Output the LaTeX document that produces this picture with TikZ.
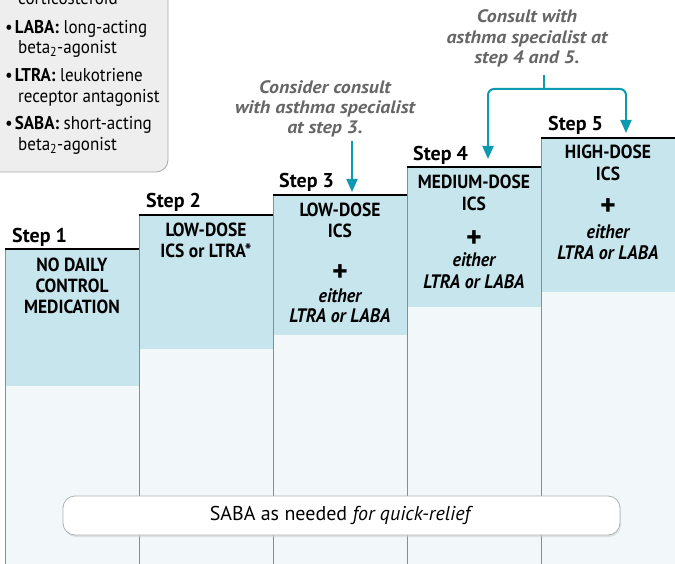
\documentclass[tikz,border=0pt]{standalone}
\usepackage{fontspec}
\setmainfont{PT Sans}
\newfontfamily\condfont{PT Sans}[FakeStretch=0.92]
\newfontfamily\widefont{PT Sans}[FakeStretch=1.1]
\usetikzlibrary{arrows.meta,shadows}
\definecolor{stepblue}{HTML}{C6E5EC}
\definecolor{steppale}{HTML}{F2F8FA}
\definecolor{tealc}{HTML}{0E9AAE}
\definecolor{consultgray}{HTML}{666666}
\definecolor{legfill}{HTML}{EEEEEE}
\definecolor{legborder}{HTML}{A8A8A8}
\definecolor{colline}{HTML}{8C8C8C}
\tikzset{
 steplabel/.style={anchor=base west, inner sep=0pt, font=\fontsize{20}{22}\selectfont\bfseries},
 boxline/.style={anchor=base, inner sep=0pt, font=\condfont\fontsize{19}{21}\selectfont\bfseries},
 boxital/.style={anchor=base, inner sep=0pt, font=\condfont\fontsize{19.5}{21}\selectfont\bfseries\itshape},
 plussign/.style={inner sep=0pt, font=\fontsize{30}{30}\selectfont\bfseries},
 consult/.style={anchor=base, inner sep=0pt, text=consultgray, font=\widefont\fontsize{18}{20}\selectfont\bfseries\itshape},
 legline/.style={anchor=base west, inner sep=0pt, font=\condfont\fontsize{18.5}{20}\selectfont},
 toparrow/.style={draw=tealc, line width=2pt, -{Triangle[width=11pt,length=13pt]}},
 tealline/.style={draw=tealc, line width=2pt},
 topline/.style={line width=1.6pt, black},
 colborder/.style={colline, line width=0.8pt},
 sababox/.style={draw=black!30, fill=white, rounded corners=12pt, line width=0.8pt,
   minimum width=557pt, minimum height=39pt, inner sep=0pt,
   drop shadow={shadow xshift=1pt, shadow yshift=-2pt, fill=black!20},
   font=\fontsize{20}{22}\selectfont},
}
\begin{document}
\begin{tikzpicture}[x=1pt,y=-1pt]
\useasboundingbox (0,0) rectangle (675,564);
\clip (0,0) rectangle (675,564);
% legend box
\draw[fill=legfill, draw=legborder, line width=0.8pt, rounded corners=12pt] (-20,-30) rectangle (168,172);
\node[legline] (leg0) at (18,5) {corticosteroid};
\node[legline] (leg1) at (5,33.5) {\textbullet\hspace{2pt}\textbf{LABA:} long-acting};
\node[legline] (leg2) at (18,53.5) {beta\textsubscript{2}-agonist};
\node[legline] (leg3) at (5,81.5) {\textbullet\hspace{2pt}\textbf{LTRA:} leukotriene};
\node[legline] (leg4) at (18,103) {receptor antagonist};
\node[legline] (leg5) at (5,130) {\textbullet\hspace{2pt}\textbf{SABA:} short-acting};
\node[legline] (leg6) at (18,150.5) {beta\textsubscript{2}-agonist};
% columns
\foreach \xa/\xb/\top/\bb in {5/139/249/386, 139/273/215/349, 273/407/195/335, 407/541/167/307, 541/680/138/292}{
  \fill[stepblue] (\xa,\top) rectangle (\xb,\bb);
  \fill[steppale] (\xa,\bb) rectangle (\xb,564);
  \draw[colborder] (\xa,\top) -- (\xa,564);
  \draw[topline] (\xa,\top) -- (\xb,\top);
}
% step labels
\node[steplabel] (st1) at (12,242.7) {Step 1};
\node[steplabel] (st2) at (146,208) {Step 2};
\node[steplabel] (st3) at (279,187.5) {Step 3};
\node[steplabel] (st4) at (413,160.7) {Step 4};
\node[steplabel] (st5) at (548,131) {Step 5};
% step 1
\node[boxline] (s1a) at (72,271.5) {NO DAILY};
\node[boxline] (s1b) at (72,292.5) {CONTROL};
\node[boxline] (s1c) at (72,313.5) {MEDICATION};
% step 2
\node[boxline] (s2a) at (206,237) {LOW-DOSE};
\node[boxline] (s2b) at (206,258) {ICS or LTRA*};
% step 3
\node[boxline] (s3a) at (340,216.5) {LOW-DOSE};
\node[boxline] (s3b) at (340,237.3) {ICS};
\node[plussign] (s3p) at (340,273) {+};
\node[boxital] (s3c) at (340,302.5) {either};
\node[boxital] (s3d) at (340,323) {LTRA or LABA};
% step 4
\node[boxline] (s4a) at (474,189) {MEDIUM-DOSE};
\node[boxline] (s4b) at (474,210.5) {ICS};
\node[plussign] (s4p) at (474,239) {+};
\node[boxital] (s4c) at (474,267) {either};
\node[boxital] (s4d) at (474,288) {LTRA or LABA};
% step 5
\node[boxline] (s5a) at (608,159) {HIGH-DOSE};
\node[boxline] (s5b) at (608,181) {ICS};
\node[plussign] (s5p) at (608,207) {+};
\node[boxital] (s5c) at (608,239) {either};
\node[boxital] (s5d) at (608,260) {LTRA or LABA};
% consult texts
\node[consult] (c3a) at (325,93.3) {Consider consult};
\node[consult] (c3b) at (325,114) {with asthma specialist};
\node[consult] (c3c) at (325,134) {at step 3.};
\node[consult] (c45a) at (527,22.7) {Consult with};
\node[consult] (c45b) at (527,43.3) {asthma specialist at};
\node[consult] (c45c) at (527,64) {step 4 and 5.};
% arrows
\coordinate (a3s) at (352,141);
\coordinate (a3e) at (352,192);
\draw[toparrow] (a3s) -- (a3e);
\coordinate (a45s) at (544,75);
\coordinate (a45j) at (544,89);
\coordinate (a4e) at (488,159);
\coordinate (a5e) at (626,133);
\draw[tealline] (a45s) -- (a45j);
\draw[toparrow, rounded corners=6pt] (a45j) -| (a4e);
\draw[toparrow, rounded corners=6pt] (a45j) -| (a5e);
% SABA box
\node[sababox] (saba) at (341.5,515.5) {SABA as needed \textit{for quick-relief}};
\end{tikzpicture}
\end{document}
